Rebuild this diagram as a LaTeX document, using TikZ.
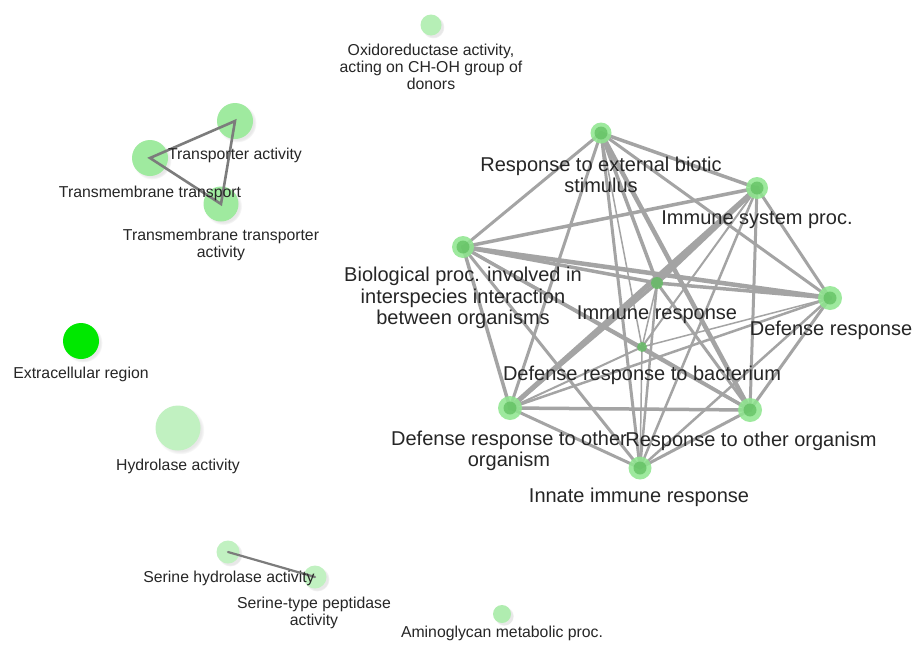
\documentclass[tikz,border=0pt]{standalone}
\usepackage{fontspec}
\setmainfont{Liberation Sans}
\usetikzlibrary{shadows}
\definecolor{edgegray}{HTML}{A4A4A4}
\definecolor{darkedge}{HTML}{7C7C7C}
\definecolor{halo}{HTML}{8EE68E}
\definecolor{core}{HTML}{5DBE5D}
\tikzset{
  net/.style={draw=edgegray, line cap=round},
  small/.style={draw=darkedge, line width=2.6pt, line cap=round},
  bignode/.style={circle, fill=halo, opacity=0.85, inner sep=0pt, minimum size=22pt},
  corenode/.style={circle, fill=core, opacity=0.7, inner sep=0pt, minimum size=13pt},
  starnode/.style={circle, fill=core, opacity=0.75, inner sep=0pt, minimum size=12pt},
  blob/.style={circle, inner sep=0pt, circular drop shadow={shadow xshift=2pt, shadow yshift=-2pt, opacity=0.18, shadow scale=1.08}},
  biglab/.style={font=\fontsize{20}{21.5}\selectfont, align=center, inner sep=0pt, text=black!85},
  smalllab/.style={font=\fontsize{15.8}{17}\selectfont, align=center, inner sep=0pt, text=black!85},
}
\begin{document}
\begin{tikzpicture}[x=1pt,y=-1pt]
\useasboundingbox (0,0) rectangle (917,648);
\fill[white] (0,0) rectangle (917,648);
% ---------- network coordinates ----------
\coordinate (A) at (601,133);
\coordinate (B) at (757,188);
\coordinate (C) at (463,247);
\coordinate (D) at (657,283);
\coordinate (E) at (830,298);
\coordinate (F) at (642,347);
\coordinate (G) at (510,408);
\coordinate (H) at (750,410);
\coordinate (I) at (640,468);
% ---------- network edges ----------
\draw[net, line width=3.5pt] (A) -- (B);
\draw[net, line width=3pt] (A) -- (C);
\draw[net, line width=3.5pt] (A) -- (D);
\draw[net, line width=3pt] (A) -- (E);
\draw[net, line width=1.5pt] (A) -- (F);
\draw[net, line width=3pt] (A) -- (G);
\draw[net, line width=4.5pt] (A) -- (H);
\draw[net, line width=3pt] (A) -- (I);
\draw[net, line width=3.5pt] (B) -- (C);
\draw[net, line width=4.5pt] (B) -- (D);
\draw[net, line width=3pt] (B) -- (E);
\draw[net, line width=2pt] (B) -- (F);
\draw[net, line width=5pt] (B) -- (G);
\draw[net, line width=3pt] (B) -- (H);
\draw[net, line width=2.5pt] (B) -- (I);
\draw[net, line width=3.5pt] (C) -- (D);
\draw[net, line width=4.5pt] (C) -- (E);
\draw[net, line width=2.5pt] (C) -- (F);
\draw[net, line width=3.5pt] (C) -- (G);
\draw[net, line width=3.5pt] (C) -- (H);
\draw[net, line width=3pt] (C) -- (I);
\draw[net, line width=3.5pt] (D) -- (E);
\draw[net, line width=1.5pt] (D) -- (F);
\draw[net, line width=3.5pt] (D) -- (G);
\draw[net, line width=3pt] (D) -- (H);
\draw[net, line width=2.5pt] (D) -- (I);
\draw[net, line width=1.5pt] (E) -- (F);
\draw[net, line width=2.5pt] (E) -- (G);
\draw[net, line width=3pt] (E) -- (H);
\draw[net, line width=2.5pt] (E) -- (I);
\draw[net, line width=2pt] (F) -- (G);
\draw[net, line width=3pt] (F) -- (H);
\draw[net, line width=1.5pt] (F) -- (I);
\draw[net, line width=3.5pt] (G) -- (H);
\draw[net, line width=3pt] (G) -- (I);
\draw[net, line width=3pt] (H) -- (I);
% ---------- network nodes ----------
\foreach \n/\s in {A/21,B/22,C/22,E/24,G/24,H/24,I/23}{
  \node[bignode, minimum size=\s pt] (n\n) at (\n) {};
  \node[corenode] (c\n) at (\n) {};
}
\node[starnode] (nD) at (D) {};
\node[starnode, minimum size=10pt] (nF) at (F) {};
% ---------- network labels ----------
\node[biglab] (lA) at (601,175) {Response to external biotic\\stimulus};
\node[biglab] (lB) at (757,220) {Immune system proc.};
\node[biglab] (lC) at (463,298) {Biological proc. involved in\\interspecies interaction\\between organisms};
\node[biglab] (lD) at (657,315) {Immune response};
\node[biglab] (lE) at (831,330) {Defense response};
\node[biglab] (lF) at (642,375) {Defense response to bacterium};
\node[biglab] (lG) at (509,451) {Defense response to other\\organism};
\node[biglab] (lH) at (751,441) {Response to other organism};
\node[biglab] (lI) at (639,497) {Innate immune response};
% ---------- small clusters ----------
\node[blob, fill=halo!85!white, minimum size=36pt] (ta) at (235,121) {};
\node[blob, fill=halo!85!white, minimum size=36pt] (tt) at (150,158) {};
\node[blob, fill=halo!85!white, minimum size=35pt] (tta) at (221,204) {};
\draw[small] (ta.center) -- (tt.center) -- (tta.center) -- cycle;
\node[blob, fill=halo!65!white, minimum size=21pt] (ox) at (431,25) {};
\node[blob, fill={rgb,255:red,0;green,232;blue,0}, minimum size=36pt] (ex) at (81,341) {};
\node[blob, fill=halo!55!white, minimum size=45pt] (hy) at (178,428) {};
\node[blob, fill=halo!55!white, minimum size=23pt] (sh) at (228,552) {};
\node[blob, fill=halo!55!white, minimum size=23pt] (sp) at (315,577) {};
\draw[small, line width=2.2pt] (sh.center) -- (sp.center);
\node[blob, fill=halo!70!white, minimum size=18pt] (am) at (502,614) {};
% ---------- small labels ----------
\node[smalllab] (lox) at (431,67) {Oxidoreductase activity,\\acting on CH-OH group of\\donors};
\node[smalllab] (lta) at (235,155) {Transporter activity};
\node[smalllab] (ltt) at (150,193) {Transmembrane transport};
\node[smalllab] (ltta) at (221,245) {Transmembrane transporter\\activity};
\node[smalllab] (lex) at (81,374) {Extracellular region};
\node[smalllab] (lhy) at (178,466) {Hydrolase activity};
\node[smalllab] (lsh) at (229,578) {Serine hydrolase activity};
\node[smalllab] (lsp) at (314,612.5) {Serine-type peptidase\\activity};
\node[smalllab] (lam) at (502,633) {Aminoglycan metabolic proc.};
\end{tikzpicture}
\end{document}
